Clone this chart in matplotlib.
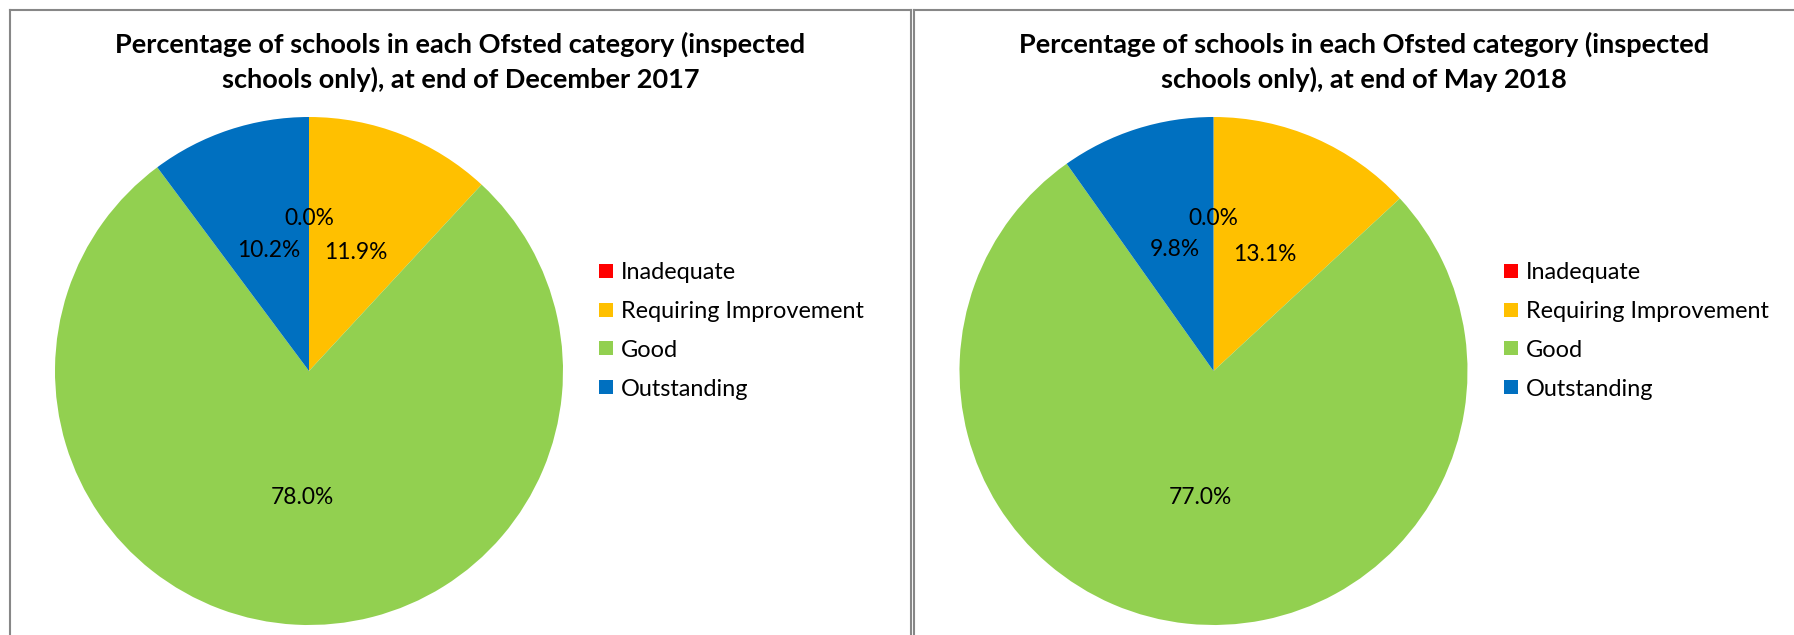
import matplotlib
matplotlib.use("Agg")
import matplotlib.pyplot as plt
from matplotlib.patches import Rectangle
from matplotlib.lines import Line2D
import numpy as np

# ---------------- data ----------------
categories = ["Inadequate", "Requiring Improvement", "Good", "Outstanding"]
colors = ["#FF0000", "#FFC000", "#92D050", "#0070C0"]
dec_2017 = [0.0, 11.9, 78.0, 10.2]
may_2018 = [0.0, 13.1, 77.0, 9.8]
titles = [
    ["Percentage of schools in each Ofsted category (inspected",
     "schools only), at end of December 2017"],
    ["Percentage of schools in each Ofsted category (inspected",
     "schools only), at end of May 2018"],
]
series = [dec_2017, may_2018]

# ---------------- layout ----------------
W, H = 1794, 635
DPI = 100
fig = plt.figure(figsize=(W / DPI, H / DPI), dpi=DPI)
fig.patch.set_facecolor("white")
renderer = fig.canvas.get_renderer()

FONT = ["Lato", "DejaVu Sans"]


def fx(x):
    return x / W


def fy(y):
    return 1 - y / H


def fit_size(txt, target_px, **kw):
    t = fig.text(0, 0, txt, fontsize=10, family=FONT, **kw)
    w = t.get_window_extent(renderer).width
    t.remove()
    return 10 * target_px / w


title_fs = fit_size(titles[0][0], 694, weight="bold")
legend_fs = fit_size("Requiring Improvement", 244)
label_fs = fit_size("78.0%", 63)

# panel frames
border_col = "#878787"
lw = 1.5
panels = [(9.5, 911.0), (914.0, 1830.0)]
for (x0, x1) in panels:
    fig.add_artist(Line2D([fx(x0), fx(x0)], [fy(10), fy(H + 5)], color=border_col, lw=lw,
                          transform=fig.transFigure))
    fig.add_artist(Line2D([fx(x0), fx(x1)], [fy(10), fy(10)], color=border_col, lw=lw,
                          transform=fig.transFigure))
    fig.add_artist(Line2D([fx(x1), fx(x1)], [fy(10), fy(H + 5)], color=border_col, lw=lw,
                          transform=fig.transFigure))

R = 254.0
pie_cy = 371.0
for k, (vals, tlines, (x0, x1)) in enumerate(zip(series, titles, panels)):
    cx = x0 + 299.5
    ax = fig.add_axes([fx(cx - R), fy(pie_cy + R), 2 * R / W, 2 * R / H])
    wedges, _ = ax.pie(vals, colors=colors, startangle=90, counterclock=False,
                       radius=1.0, wedgeprops=dict(linewidth=0))
    ax.set_xlim(-1, 1)
    ax.set_ylim(-1, 1)
    ax.set_aspect("equal")
    ax.axis("off")

    # data labels
    for w, v in zip(wedges, vals):
        ang = np.deg2rad((w.theta1 + w.theta2) / 2)
        r = 0.5 if v > 0 else 0.6
        ax.text(r * np.cos(ang), r * np.sin(ang), f"{v:.1f}%", ha="center", va="center",
                fontsize=label_fs, family=FONT, color="#000000")

    # title
    tcx = (x0 + x1) / 2 if k == 0 else x0 + 450
    for j, line in enumerate(tlines):
        fig.text(fx(tcx), fy(53 + 35 * j), line, ha="center", va="baseline",
                 fontsize=title_fs, weight="bold", family=FONT, color="#000000")

    # legend
    lx = cx + 290
    for i, (cat, col) in enumerate(zip(categories, colors)):
        yc = 271 + 38.7 * i
        fig.add_artist(Rectangle((fx(lx), fy(yc + 7)), 14 / W, 14 / H, facecolor=col,
                                 edgecolor="none", transform=fig.transFigure))
        fig.text(fx(lx + 22), fy(yc), cat, ha="left", va="center_baseline",
                 fontsize=legend_fs, family=FONT, color="#000000")

fig.savefig("out.png", dpi=DPI, facecolor="white")
